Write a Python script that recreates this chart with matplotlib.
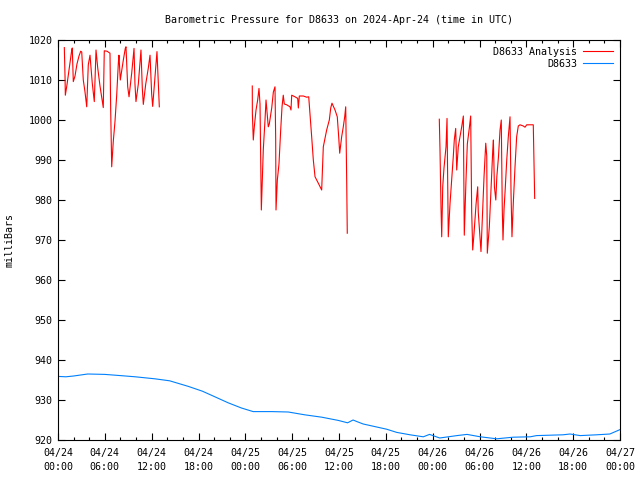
import numpy as np
import matplotlib
matplotlib.use("Agg")
import matplotlib.pyplot as plt
import matplotlib.dates as mdates
from datetime import datetime, timedelta

# Analysis series (hours since 2024-04-24 00:00 UTC, millibars) in three blocks
ana1_h = [0.81, 0.90, 0.94, 1.15, 1.41, 1.58, 1.76, 1.83, 1.96, 2.18, 2.43, 2.69, 2.91, 3.04,
          3.24, 3.46, 3.68, 3.88, 4.10, 4.39, 4.65, 4.87, 5.09, 5.38, 5.68, 5.80, 5.93, 6.28,
          6.66, 6.75, 6.88, 7.08, 7.30, 7.52, 7.73, 7.81, 7.98, 8.37, 8.62, 8.71, 8.93, 9.10,
          9.44, 9.74, 9.86, 9.99, 10.29, 10.63, 10.80, 10.93, 11.24, 11.57, 11.79, 12.00,
          12.13, 12.43, 12.68, 12.98]
ana1_p = [1018.1, 1010.8, 1006.2, 1008.8, 1012.5, 1015.0, 1017.5, 1018.0, 1009.6, 1011.0,
          1014.0, 1016.0, 1017.2, 1017.0, 1010.0, 1007.0, 1003.3, 1013.8, 1016.2, 1009.2,
          1004.6, 1017.5, 1013.0, 1008.5, 1004.6, 1003.1, 1017.3, 1017.2, 1016.7, 1002.5,
          988.3, 994.6, 999.6, 1006.2, 1014.2, 1016.2, 1010.0, 1015.0, 1017.9, 1018.3,
          1008.3, 1005.8, 1011.7, 1017.9, 1009.0, 1004.6, 1009.0, 1017.5, 1008.0, 1003.9,
          1009.0, 1013.0, 1016.2, 1006.5, 1003.4, 1011.0, 1017.1, 1003.3]

ana2_h = [24.89, 24.90, 25.02, 25.15, 25.37, 25.58, 25.75, 25.88, 25.97, 26.05, 26.17, 26.30,
          26.52, 26.65, 26.94, 27.07, 27.38, 27.59, 27.80, 27.89, 27.93, 28.10, 28.31, 28.53,
          28.70, 28.86, 28.99, 29.30, 29.72, 29.85, 29.94, 30.36, 30.71, 30.79, 30.92, 31.43,
          31.86, 32.12, 32.28, 32.50, 32.71, 32.93, 33.35, 33.78, 33.99, 34.42, 34.76, 34.94,
          35.10, 35.49, 35.78, 35.96, 36.09, 36.34, 36.55, 36.73, 36.86, 36.99, 37.06]
ana2_p = [1008.5, 1001.7, 995.0, 998.3, 1002.5, 1005.0, 1007.9, 1004.0, 990.0, 977.5,
          985.0, 992.5, 1000.0, 1005.0, 998.3, 999.0, 1003.0, 1007.0, 1008.3, 995.0,
          977.5, 985.0, 989.0, 997.5, 1003.3, 1006.2, 1004.0, 1003.8, 1003.3, 1002.5,
          1006.2, 1005.8, 1005.4, 1003.0, 1006.0, 1006.0, 1005.7, 1005.8, 1001.7, 995.8,
          990.0, 985.8, 984.2, 982.5, 993.3, 997.5, 1000.0, 1003.0, 1004.2, 1002.5,
          1000.8, 995.8, 991.7, 995.8, 998.3, 1000.8, 1003.3, 984.2, 971.7]

ana3_h = [48.85, 48.94, 49.07, 49.16, 49.29, 49.45, 49.71, 49.84, 50.00, 50.22, 50.44, 50.64,
          50.77, 50.95, 51.08, 51.28, 51.50, 51.72, 51.93, 52.05, 52.27, 52.44, 52.69, 52.87,
          53.00, 53.13, 53.30, 53.56, 53.77, 53.84, 54.06, 54.19, 54.36, 54.58, 54.80, 54.93,
          55.00, 55.26, 55.49, 55.70, 55.78, 55.91, 56.09, 56.22, 56.43, 56.63, 56.79, 56.92,
          57.01, 57.14, 57.31, 57.49, 57.69, 57.91, 58.04, 58.16, 58.33, 58.55, 58.76, 58.97,
          59.19, 59.61, 59.83, 60.05, 60.89, 60.98, 61.07]
ana3_p = [1000.2, 992.5, 978.0, 970.8, 983.3, 988.0, 993.3, 1000.4, 970.8, 979.0,
          985.0, 990.8, 995.0, 997.9, 987.5, 993.3, 995.8, 998.3, 1001.0, 971.2,
          985.0, 994.0, 997.9, 1001.0, 977.0, 967.5, 971.7, 979.0, 983.3, 977.0,
          970.8, 967.1, 975.0, 985.8, 994.2, 991.0, 966.7, 973.3, 983.3, 992.5,
          995.0, 983.3, 980.0, 985.8, 990.8, 997.5, 1000.0, 977.5, 970.0, 977.5,
          983.3, 990.0, 995.8, 1000.8, 981.7, 970.8, 979.2, 988.3, 995.8, 998.5,
          998.8, 998.5, 998.2, 998.8, 998.8, 990.0, 980.4]

# Station observations
obs_h = [0, 1, 2, 3.8, 6, 8, 9.9, 12.4, 14.3, 16.7, 18.5, 20.1, 21.8, 23.5, 25, 27.4, 29.5,
         31.6, 33.8, 35.9, 37.1, 37.8, 38.3, 39.1, 42.1, 43.4, 45.1, 46.8, 47.6, 48.9, 51.1,
         52.4, 54.1, 56.2, 58.3, 60.5, 61.3, 64.7, 65.6, 66.9, 69, 70.7, 72]
obs_p = [935.9, 935.8, 936.0, 936.5, 936.4, 936.1, 935.8, 935.3, 934.8, 933.4, 932.2, 930.8,
         929.3, 928.0, 927.1, 927.1, 927.0, 926.3, 925.7, 924.9, 924.3, 925.0, 924.6, 924.0,
         922.7, 921.9, 921.3, 920.8, 921.4, 920.5, 921.1, 921.4, 920.8, 920.3, 920.7, 920.8,
         921.1, 921.3, 921.5, 921.1, 921.3, 921.5, 922.6]

start = datetime(2024, 4, 24)

def to_time(hours):
    return [start + timedelta(hours=h) for h in hours]

# join the analysis blocks with gaps
ana_t = to_time(ana1_h) + [start] + to_time(ana2_h) + [start] + to_time(ana3_h)
ana_p = ana1_p + [np.nan] + ana2_p + [np.nan] + ana3_p

plt.rcParams['font.family'] = 'DejaVu Sans Mono'
plt.rcParams['font.size'] = 7.2

fig = plt.figure(figsize=(6.4, 4.8), dpi=100)
ax = fig.add_axes([58 / 640, 40 / 480, 562 / 640, 400 / 480])

ax.plot(ana_t, ana_p, color='#ff0000', lw=0.8, label='D8633 Analysis')
ax.plot(to_time(obs_h), obs_p, color='#0080ff', lw=0.8, label='D8633')

ax.set_xlim(start, start + timedelta(hours=72))
ax.set_ylim(920, 1020)
ax.set_yticks(np.arange(920, 1021, 10))

ax.xaxis.set_major_locator(mdates.HourLocator(byhour=range(0, 24, 6)))
ax.xaxis.set_minor_locator(mdates.HourLocator(byhour=range(0, 24, 2)))
ax.xaxis.set_major_formatter(mdates.DateFormatter('%m/%d\n%H:%M'))
for lbl in ax.get_xticklabels():
    lbl.set_linespacing(1.45)

ax.tick_params(which='both', direction='in', top=True, right=True, colors='black')
ax.tick_params(which='major', length=5, width=0.8, pad=4)
ax.tick_params(axis='x', which='major', pad=6)
ax.tick_params(which='minor', length=2.5, width=0.8)
for s in ax.spines.values():
    s.set_linewidth(0.8)

ax.set_ylabel('milliBars')
ax.yaxis.set_label_coords(-0.078, 0.5)
ax.set_title('Barometric Pressure for D8633 on 2024-Apr-24 (time in UTC)', fontsize=7.2, pad=12)

ax.legend(loc='upper right', frameon=False, markerfirst=False, handlelength=3.0,
          borderaxespad=0.4, labelspacing=0.2, handletextpad=0.6, fontsize=7.2,
          borderpad=0.3)

fig.savefig('out.png', dpi=100)
